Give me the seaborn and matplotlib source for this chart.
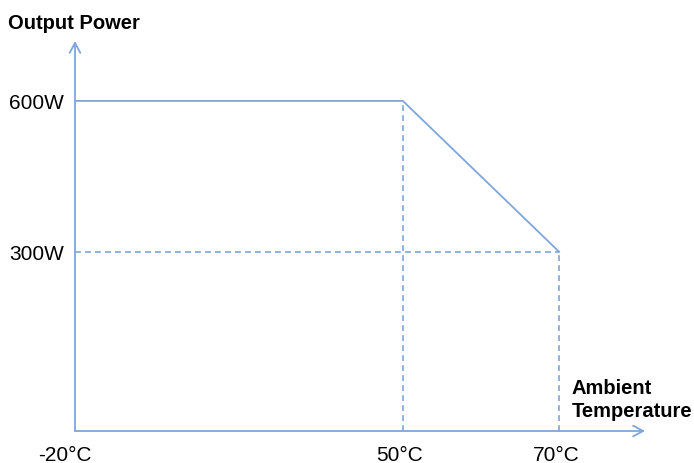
import numpy as np
import pandas as pd
import seaborn as sns
import matplotlib
matplotlib.use("Agg")
import matplotlib.pyplot as plt
from matplotlib.transforms import ScaledTranslation

# derating curve
temps = [-20, 50, 70]
power = [600, 600, 300]
x_labels = ["-20°C", "50°C", "70°C"]
y_ticks = [300, 600]
y_labels = ["300W", "600W"]

line_c = "#7fa6da"

sns.set_theme(style="white")
plt.rcParams["font.family"] = ["Liberation Sans", "DejaVu Sans"]
plt.rcParams["text.color"] = "black"
plt.rcParams["xtick.color"] = "black"
plt.rcParams["ytick.color"] = "black"

# schematic x axis: the 50..70 span is drawn wider than -20..50
knots_t = [-20, 50, 70, 81]
knots_p = [0, 329, 486, 572]
fwd = lambda t: np.interp(t, knots_t, knots_p)
inv = lambda p: np.interp(p, knots_p, knots_t)

fig = plt.figure(figsize=(6.94, 4.64), dpi=100)
ax = fig.add_axes([75 / 694, 32 / 464, 570 / 694, 390 / 464])
ax.set_xscale("function", functions=(fwd, inv))
ax.set_xlim(-20, 81)
ax.set_ylim(-55.6, 719)

df = pd.DataFrame({"temp": temps, "power": power})
sns.lineplot(data=df, x="temp", y="power", color=line_c, lw=1.3, ax=ax)

# guide lines
dash = dict(color=line_c, lw=1.2, ls=(0, (3.5, 2.5)))
ax.plot([temps[1], temps[1]], [-55.6, power[1]], **dash)
ax.plot([temps[2], temps[2]], [-55.6, power[2]], **dash)
ax.plot([temps[0], temps[2]], [power[2], power[2]], **dash)

for s in ax.spines.values():
    s.set_visible(False)
arrow = dict(arrowstyle="->,head_length=0.6,head_width=0.32", color=line_c, lw=1.3,
             shrinkA=0, shrinkB=0)
ax.annotate("", xy=(1, 0), xytext=(0, 0), xycoords="axes fraction", arrowprops=arrow)
ax.annotate("", xy=(0, 1), xytext=(0, 0), xycoords="axes fraction", arrowprops=arrow)

ax.set_xticks(temps)
ax.set_xticklabels(x_labels, fontsize=15)
ax.set_yticks(y_ticks)
ax.set_yticklabels(y_labels, fontsize=15)
ax.tick_params(axis="x", length=0, pad=10)
ax.tick_params(axis="y", length=0, pad=8)
ax.minorticks_off()
ax.set_xlabel("")
ax.set_ylabel("")

# nudge labels a little left, as in the original drawing
shifts = [-0.10, -0.03, -0.03]
for lab, dx in zip(ax.get_xticklabels(), shifts):
    lab.set_transform(lab.get_transform() + ScaledTranslation(dx, 0, fig.dpi_scale_trans))

fig.text(8 / 694, 1 - 14 / 464, "Output Power", fontsize=14.5, fontweight="bold",
         ha="left", va="top")
fig.text(572 / 694, 1 - 379 / 464, "Ambient\nTemperature", fontsize=14.5,
         fontweight="bold", ha="left", va="top", linespacing=1.3)

fig.savefig("out.png", dpi=100)
